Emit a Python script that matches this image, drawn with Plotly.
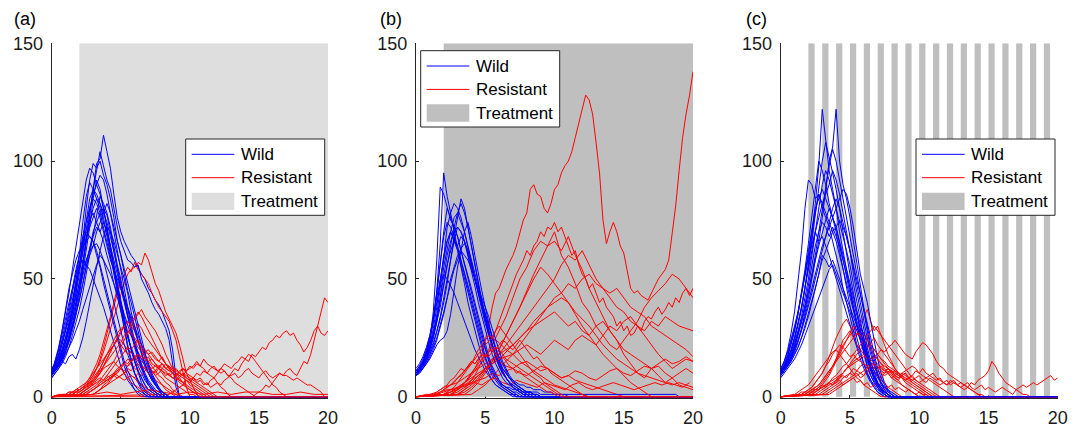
import plotly.graph_objects as go

# ---------------- shared settings ----------------
DT = 0.25            # sampling step of the wild trajectories (time units)
T_START, T_END = 0, 20
Y_MAX = 150
X_TICKS = [0, 5, 10, 15, 20]
Y_TICKS = [0, 50, 100, 150]
PANEL_LABELS = ["(a)", "(b)", "(c)"]
LEGEND_LABELS = ["Wild", "Resistant", "Treatment"]

# ---------------- panel (a): continuous treatment, light ----------------
TREAT_A = (2, 20)
WILD_A = [
    [10,11,14,16,20, 24,30,37,45, 55,66,78,90, 99,101,111,104, 97,86,76,70, 66,63,60,58, 55,52,50,46, 44,41,39,36, 32,28,20,8, 0],
    [9,11,14,18,23, 29,36,44,54, 66,80,92,99, 97,100,94,90, 84,76,66,60, 52,45,40,34, 27,21,16,12, 8,5,3,1, 0],
    [9,12,13,16,21, 26,31,38,46, 56,67,79,88, 96,104,98,92, 88,80,72,66, 62,58,57,55, 56,50,47,44, 40,37,35,32, 29,24,14,4, 0],
    [10,12,15,19,24, 30,38,48,60, 74,85,91,88, 84,80,74,70, 62,55,48,40, 33,26,20,15, 10,6,3,1, 0],
    [8,10,12,14,17, 21,26,31,37, 44,52,60,68, 76,85,82,78, 72,64,56,50, 42,35,28,22, 17,12,9,6, 4,2,1,0],
    [11,14,17,22,28, 34,41,49,57, 64,71,75,78, 74,70,66,60, 55,48,42,36, 30,25,21,17, 13,10,7,5, 3,2,1,0],
    [10,11,13,15,14, 17,18,16,20, 25,32,40,48, 55,62,68,72, 70,66,60,55, 50,44,36,30, 24,18,14,10, 7,5,3,2, 1,0],
    [12,14,16,20,25, 30,36,42,48, 54,58,62,64, 65,62,58,52, 46,40,34,28, 22,18,14,10, 7,5,3,2, 1,0],
    [9,13,18,24,31, 38,46,54,60, 66,70,68,66, 60,55,48,42, 36,30,24,18, 13,9,6,3, 1,0],
    [11,15,20,26,33, 40,46,52,56, 58,56,54,50, 46,42,38,33, 28,22,17,13, 10,7,5,3, 2,1,0],
    [9,11,13,16,19, 24,29,35,43, 52,62,72,84, 92,88,80,72, 64,55,46,38, 30,22,16,10, 6,3,1,0],
    [10,12,14,17,21, 25,30,35,41, 48,55,63,70, 74,78,80,77, 70,62,54,46, 40,34,28,22, 18,14,10,7, 5,3,2,1, 0],
    [10,15,21,28,36, 44,54,64,74, 84,92,97,95, 90,86,80,72, 64,56,48,40, 32,26,20,15, 11,8,5,3, 2,1,0],
    [10,11,13,15,18, 21,24,28,32, 37,42,47,52, 56,60,58,55, 52,48,44,40, 35,30,26,22, 19,16,13,10, 8,6,4,2, 1,0],
    [11,13,16,20,25, 31,38,46,56, 66,76,84,88, 86,82,76,68, 60,52,44,36, 28,21,15,10, 7,4,2,1, 0],
    [9,14,20,28,38, 46,52,58,62, 64,66,68,66, 62,56,50,44, 38,32,26,20, 15,11,8,5, 3,2,1,0],
    [10,12,15,18,23, 28,35,43,52, 62,72,80,86, 90,94,92,86, 78,70,62,54, 46,38,30,24, 18,13,9,6, 4,2,1,0],
    [9,11,13,17,21, 26,33,40,49, 58,66,74,80, 84,82,78,74, 68,62,55,48, 41,34,27,21, 16,12,8,5, 3,2,1,0],
    [11,13,15,19,23, 28,34,40,46, 52,58,63,68, 72,70,74,70, 64,58,52,46, 42,38,33,28, 23,18,14,10, 7,5,3,2, 1,0],
    [10,13,17,22,27, 33,40,47,55, 62,68,72,76, 80,76,70,64, 58,54,50,46, 42,38,34,30, 26,22,18,14, 10,7,4,2, 1,0],
    [8,10,12,15,19, 23,28,34,41, 48,55,60,64, 70,74,78,82, 78,72,66,60, 54,48,42,36, 30,24,18,13, 9,6,3,1, 0],
    [12,14,18,23,29, 36,44,52,60, 68,74,80,84, 82,78,72,66, 60,53,46,39, 32,26,20,15, 11,8,5,3, 2,1,0],
]
# resistant: (start time, step, values)
RES_A = [
    (1.0, 0.25, [1,1,2,2, 3,4,5,7, 9,12,15,19, 24,29,33,38, 44,48,52,54, 55,57,56,61, 58,53,48,45, 40,36,33,30, 27,22,16,10, 7,4,1,0]),
    (1.25, 0.25, [1,1,2,3, 4,6,8,11, 14,18,23,28, 34,40,46,50, 52,55,53,57, 54,52,50,48, 44,41,38,36, 34,32,28,24, 17,10,4,0]),
    (1.5, 0.25, [1,2,2,3, 5,7,9,12, 16,21,27,33, 38,44,48,42, 37,32,28,24, 20,17,14,11, 9,7,5,3, 2,1,0]),
    (2.0, 0.25, [1,2,3,4, 6,8,10,13, 16,19,22,24, 27,30,32,34, 33,35,37,34, 32,30,28,25, 22,18,15,12, 10,8,6,4, 3,2,1,0]),
    (1.5, 0.25, [1,1,2,3, 4,6,8,10, 12,15,18,20, 22,25,24,22, 20,19,17,16, 15,14,13,12, 13,12,11,10, 9,10,8,7, 6,7,5,4, 3,2,1,0]),
    (2.5, 0.25, [1,2,3,4, 5,6,8,9, 10,12,13,15, 14,16,17,18, 16,15,17,14, 13,12,14,12, 11,10,9,11, 12,10,9,8, 7,8,6,5, 7,8,10,12, 11,9,8,6, 5,4,3,2, 1,0]),
    (3.0, 0.25, [1,2,3,4, 5,6,7,8, 9,10,12,11, 13,14,12,13, 12,11,10,12, 11,9,10,8, 9,10,12,11, 13,12,14,13, 16,14,13,12, 11,10,11,9, 9,10,8,9, 11,12,10,9, 8,10,11,9, 8,9,10,9, 9,8,7,8, 7,6,5,5, 4,3,2,0]),
    (3.0, 0.25, [1,2,3,5, 6,8,9,10, 12,11,13,14, 12,11,13,12, 10,11,9,10, 12,11,9,8, 7,8,10,9, 8,7,6,7, 5,6,4,5, 6,5,7,8, 10,12,11,14, 16,15,18,17, 19,21,20,23, 24,26,25,27, 28,26,27,24, 22,19,21,24, 28,30,27,26, 28]),
    (14.5, 0.25, [0,1, 2,3,5,4, 6,8,10,9, 11,12,10,9, 12,15,14,18, 24,30,37,42, 40]),
    (8.5, 0.25, [1,2, 3,4,5,7, 6,8,10,9, 11,10,12,13, 11,12,14,13, 12,14,15,17, 16,18,17,15, 13,11,9,7, 5,4,2,1, 0]),
    (2.0, 0.25, [1,2,3,4, 5,6,7,6, 7,8,9,8, 9,10,8,9, 8,10,9,11, 12,10,11,13, 12,14,13,11, 12,10,9,11, 12,13,15,13, 12,10,9,8, 6,4,3,1, 0]),
    (1.0, 0.25, [1,1,2,2, 3,4,5,6, 7,9,10,12, 13,14,15,13, 12,10,11,9, 8,6,5,4, 3,3,2,1, 0]),
    (2.0, 0.25, [1,2,3,5, 7,9,12,15, 18,21,24,27, 29,30,28,26, 24,21,19,17, 15,13,11,9, 8,6,5,3, 2,1,0]),
    (0.5, 0.25, [1,1,1,2, 2,3,3,4, 5,6,5,7, 8,7,9,8, 10,9,8,7, 8,6,5,4, 3,2,2,1, 0]),
    (0.75, 0.25, [1,1,2,2, 3,4,5,6, 8,10,12,14, 16,18,20,22, 24,22,20,18, 19,17,15,13, 12,10,9,7, 6,5,4,3, 2,1,0]),
    (2.25, 0.25, [1,2,2,3, 4,5,6,7, 8,10,11,12, 14,13,15,16, 18,17,19,20, 18,16,15,17, 14,12,13,11, 10,9,8,7, 8,6,5,4, 3,2,1,0]),
    (3.0, 1.0, [1,2,1,2,3,2,1,2,1,2,1,2,2,1,1,2,1,1]),
    (1.75, 0.25, [1,1,2,3, 4,6,8,10, 13,16,19,22, 25,28,30,32, 30,28,31,29, 26,24,22,20, 18,16,14,12, 10,9,7,6, 5,4,3,2, 1,0]),
    (2.5, 0.25, [1,2,3,4, 6,7,9,11, 13,15,17,19, 21,20,22,24, 22,20,18,19, 17,15,14,12, 13,11,10,9, 8,7,6,5, 4,3,2,1, 0]),
    (1.25, 0.25, [1,1,2,2, 3,4,5,7, 9,11,13,15, 17,19,21,23, 26,28,27,25, 23,21,19,18, 16,14,12,10, 8,7,6,5, 4,3,2,1, 1,0]),
    (3.0, 0.25, [1,2,3,4, 5,7,9,11, 13,14,16,15, 17,18,16,17, 15,16,14,13, 14,12,11,12, 10,9,10,8, 7,6,5,4, 3,2,1,0]),
    (2.0, 0.25, [1,1,2,3, 4,5,7,9, 11,13,15,18, 21,24,27,30, 33,36,34,31, 28,25,22,19, 16,14,12,10, 8,6,5,4, 3,2,1,0]),
]

# ---------------- panel (b): continuous treatment ----------------
TREAT_B = (2, 20)
WILD_B = [
    [10,12,15,19,24, 32,45,65,95, 85,78,70,62, 55,48,40,34, 28,22,17,13, 10,7,5,4, 3,2,1,1, 0],
    [9,11,14,18,24, 36,58,89,86, 80,75,72,68, 62,56,50,44, 38,32,26,20, 15,11,8,6, 4,3,2,1, 1,0],
    [11,12,14,16,19, 23,28,34,42, 50,58,68,76, 84,80,72,64, 56,48,40,34, 28,22,17,13, 10,8,6,4, 3,2,1,0],
    [10,11,13,16,20, 25,32,42,55, 63,70,76,78, 74,70,64,58, 52,46,40,35, 30,25,20,16, 12,10,8,6, 5,4,3,2, 2,1,1,0],
    [9,11,14,17,22, 29,38,50,60, 66,70,66,62, 56,50,44,38, 32,26,21,16, 12,9,7,5, 4,3,2,1, 0],
    [9,10,12,14,16, 19,22,24,25, 28,35,45,55, 62,70,74,68, 60,52,45,38, 31,25,20,15, 11,8,6,4, 3,2,1,1, 0],
    [10,11,12,14,17, 20,24,29,35, 42,50,55,60, 63,65,62,57, 50,44,38,32, 26,21,17,13, 10,8,6,5, 4,3,2,2, 1,1,0],
    [12,14,17,21,26, 32,40,48,52, 50,47,44,40, 36,32,28,24, 20,17,14,11, 9,7,5,4, 3,2,1,0],
    [10,12,15,19,24, 32,44,58,70, 80,76,72,68, 62,57,52,46, 40,34,28,22, 17,13,10,7, 5,4,3,2, 2,1,0],
    [9,10,12,15,18, 22,27,33,40, 48,58,66,72, 70,66,60,55, 50,45,40,35, 30,25,21,17, 14,11,8,6, 5,4,3,2, 2,1,1,0],
    [11,13,16,20,26, 34,42,50,58, 66,70,67,63, 58,52,46,40, 34,28,22,17, 13,10,8,6, 5,4,4,3, 3,3,2,2, 2,2,2,1,
     1,1,1,1, 1,1,1,1, 1,1,1,1, 1,1,1,1, 1,1,1,1, 1,1,1,1, 1,1,1,1, 1,1,1,1, 1,1,1,1, 1,1,1,0],
    [10,12,14,17,21, 26,33,42,52, 60,66,70,72, 70,66,62,56, 50,44,38,32, 27,22,18,15, 12,10,8,7, 6,5,5,4, 4,3,3,3, 2,2,2,1, 1,1,1,0],
    [10,12,14,17,21, 27,35,46,60, 72,78,82,80, 76,70,64,57, 50,43,37,31, 26,21,17,13, 10,8,6,4, 3,2,1,0],
    [11,13,15,18,22, 27,33,40,48, 56,62,66,64, 68,66,60,54, 47,40,34,28, 23,18,14,11, 8,6,5,4, 3,2,2,1, 1,0],
    [9,11,13,16,20, 25,31,38,47, 56,64,72,78, 82,78,72,64, 56,48,41,34, 28,22,18,14, 11,8,6,5, 4,3,2,1, 0],
    [10,12,15,19,25, 33,44,56,68, 74,72,68,64, 58,53,48,42, 36,30,25,20, 16,12,9,7, 5,4,3,2, 1,0],
    [10,11,13,15,18, 21,25,30,36, 42,48,54,58, 62,60,58,54, 50,46,42,38, 34,29,24,19, 15,12,9,7, 5,4,3,2, 2,1,1,0],
]
RES_B = [
    (2.5, 0.25, [1,2, 3,4,6,7, 10,12,15,18, 24,30,38,44, 46,50,54,57, 60,64,70,75, 78,88,90,86, 85,80,78,82, 88,90,95,98, 100,104,110,116, 122,128,126,120, 108,95,75,65, 70,74,70,64, 61,53,46,44, 45,43,42,41, 44,47,50,52, 54,58,70,81, 96,110,120,128, 138]),
    (3.0, 0.25, [1,2,3,5, 7,9,12,15, 18,20,24,28, 32,36,40,44, 48,52,55,58, 62,60,64,66, 70,68,72,71, 74,70,72,68, 64,60,62,56, 52,50,46,48, 44,40,42,38, 36,34,30,32, 28,30,26,27, 30,28,32,34, 33,36,38,35, 37,40,38,42, 40,44,46,43, 46]),
    (2.0, 0.5, [1,2,4,6,9,13,16,22,28,34,42,50,55,62,66,64,70,60,55,48,40,36,30,26,22,20,24,28,32,38,42,45,48,52,50,46,42]),
    (3.5, 0.5, [1,3,6,10,14,18,22,26,30,34,38,42,46,50,56,60,58,62,56,50,46,42,38,36,32,30,26,22,18,15,12,14,16,15]),
    (3.0, 0.5, [1,3,5,8,12,16,20,26,32,38,45,52,58,64,66,62,68,60,54,46,40,34,28,24,18,14,10,8,12,9,6,8,5,4,3]),
    (4.0, 0.5, [1,3,5,8,12,15,18,22,26,30,34,38,42,44,48,46,50,52,48,46,44,46,42,38,36,34,30,28,26,24,22,20,17]),
    (2.5, 0.5, [1,2,4,6,9,12,15,18,20,22,25,28,30,32,34,36,33,30,32,28,26,30,32,28,24,20,18,16,14,12,13,10,8,10,12,10]),
    (2.0, 0.5, [1,2,4,6,8,10,12,14,16,17,18,20,22,20,18,21,24,22,20,24,26,24,22,26,30,28,32,34,30,28,32,30,34,32,30,29,28]),
    (1.5, 0.5, [1,2,3,4,5,6,7,8,10,9,11,12,10,9,11,13,12,10,8,9,11,10,8,7,9,11,12,10,9,11,13,12,14,16,14,15,17,15]),
    (1.0, 0.5, [1,2,4,5,6,8,10,12,14,16,15,13,12,14,15,13,11,12,10,8,9,7,6,5,4,3,2,1,0]),
    (0.75, 0.5, [1,1,2,3,3,4,5,6,5,7,8,6,5,7,6,5,4,6,5,4,3,5,6,4,3,4,5,6,5,4,3,4,5,6,5,6,5,4,6]),
    (3.0, 0.5, [1,2,4,7,11,15,20,26,32,38,44,50,55,52,48,44,40,35,30,26,22,18,15,12,9,6,4,2,0]),
    (2.0, 0.5, [1,2,3,5,7,9,11,14,16,19,22,25,28,32,35,38,40,42,40,36,33,30,26,22,19,16,14,12,10,9,8,7,6,5,6,5,4]),
    (1.5, 0.5, [1,3,5,8,11,14,18,22,25,23,20,18,15,13,11,9,7,5,4,3,2,1,0]),
    (1.0, 0.25, [1,1,2,3, 4,5,7,8, 10,12,11,13, 15,14,16,18, 17,19,20,18, 16,17,15,13, 12,10,11,9, 8,7,6,5, 4,3,2,2, 1,0]),
    (2.0, 0.25, [1,2,3,4, 6,8,10,12, 14,17,20,22, 24,26,25,28, 30,28,26,24, 22,20,18,16, 14,12,10,9, 8,6,5,4, 3,2,1,0]),
    (1.5, 0.25, [1,2,3,4, 5,6,8,9, 11,13,15,14, 16,18,17,19, 21,20,22,24, 23,21,20,22, 24,22,20,18, 16,17,15,13, 12,10,9,8, 7,6,5,4, 3,2,1,0]),
    (2.5, 0.25, [1,2,3,4, 6,8,10,12, 14,16,18,17, 19,21,20,18, 16,15,14,13, 12,11,10,9, 8,7,6,5, 4,3,2,1, 0]),
]

# ---------------- panel (c): pulsed treatment ----------------
PULSE_STARTS_C = [2, 3, 4, 5, 6, 7, 8, 9, 10, 11, 12, 13, 14, 15, 16, 17, 18, 19]
PULSE_WIDTH_C = 0.45
WILD_C = [
    [10,12,15,19,24, 30,37,46,56, 68,82,98,122, 110,96,88,80, 70,62,54,46, 38,30,24,18, 13,9,6,4, 2,1,0],
    [9,11,13,16,20, 24,29,35,42, 50,58,66,76, 88,100,106,122, 100,90,84,76, 66,56,46,38, 30,22,16,10, 6,3,1,0],
    [11,15,20,27,36, 48,62,80,92, 90,84,86,80, 76,72,66,60, 54,46,40,34, 28,22,18,14, 10,7,5,3, 2,1,0],
    [9,11,13,16,19, 23,28,34,40, 46,52,58,64, 68,72,76,80, 84,88,86,80, 72,62,52,46, 40,32,24,16, 10,6,3,1, 0],
    [10,13,16,20,25, 31,38,46,55, 66,78,90,100, 108,102,95,88, 80,70,60,52, 44,36,28,22, 16,11,7,4, 2,1,0],
    [10,12,15,18,22, 27,32,38,45, 52,58,64,70, 75,80,76,72, 65,58,50,44, 38,32,26,20, 15,11,8,5, 3,2,1,0],
    [12,15,19,24,30, 36,43,51,59, 65,70,66,68, 64,60,55,50, 45,40,35,30, 25,20,16,12, 9,6,4,2, 1,0],
    [9,11,13,15,18, 21,25,29,34, 40,46,52,60, 58,55,58,54, 50,46,42,38, 34,30,26,22, 18,14,11,8, 6,4,3,2, 1,0],
    [10,13,17,22,28, 35,44,54,65, 76,88,100,96, 90,82,76,70, 62,54,46,38, 31,25,19,14, 10,7,4,2, 1,0],
    [9,11,13,15,18, 21,25,30,35, 40,46,52,58, 62,66,70,72, 75,72,68,62, 55,48,40,32, 25,18,13,9, 6,4,2,1, 0],
    [11,14,18,23,29, 36,44,52,60, 70,78,86,82, 78,74,70,66, 60,54,48,42, 36,30,24,18, 13,9,6,4, 2,1,0],
    [10,12,14,17,21, 26,31,37,44, 52,60,70,80, 90,98,105,100, 92,84,76,68, 60,52,44,36, 28,20,14,9, 5,3,1,0],
    [8,10,12,14,16, 19,22,26,30, 34,38,42,46, 50,54,56,52, 48,44,40,36, 32,28,24,20, 16,12,9,6, 4,2,1,0],
    [10,12,15,19,23, 28,34,42,50, 60,70,80,90, 96,92,86,80, 74,68,62,56, 48,40,32,25, 18,12,8,5, 3,2,1,0],
    [11,13,16,20,25, 31,38,46,54, 62,70,76,82, 86,90,96,92, 86,78,70,62, 52,44,36,28, 21,15,10,6, 3,1,0],
    [9,11,14,17,21, 26,32,39,47, 56,64,70,74, 72,68,72,68, 64,58,52,46, 40,34,28,22, 17,12,8,5, 3,2,1,0],
    [10,13,17,22,28, 35,43,52,62, 72,80,84,88, 84,80,76,72, 66,60,54,48, 42,36,30,24, 18,13,9,6, 4,2,1,0],
    [10,12,14,17,20, 24,28,33,38, 44,50,56,62, 68,74,80,84, 80,74,68,62, 56,50,44,38, 32,25,18,12, 8,5,2,1, 0],
]
RES_C = [
    (1.5, 0.25, [1,1,2,3, 4,5,7,9, 11,13,16,19, 22,24,26,28, 30,31,34,37, 32,28,30,26, 22,18,15,12, 10,8,6,5, 4,3,2,1, 0]),
    (1.0, 0.25, [1,1,2,2, 3,4,6,8, 10,13,17,21, 25,28,31,33, 30,28,26,29, 27,24,22,20, 18,16,14,12, 10,8,7,5, 4,3,2,1, 0]),
    (2.0, 0.25, [1,2,2,3, 4,5,6,7, 8,9,10,12, 13,14,15,16, 17,18,16,17, 18,20,19,21, 22,24,22,20, 18,17,16,19, 21,23,22,20, 18,15,13,12, 10,9,8,7, 6,5,4,3, 2,1,1,0]),
    (3.0, 0.25, [1,2,3,4, 5,6,8,9, 10,12,11,13, 14,12,13,15, 14,12,11,10, 11,9,8,10, 9,8,7,8, 9,7,6,8, 7,6,5,6, 5,6,7,5, 6,5,4,6, 5,7,8,9, 11,15,13,10, 8,6,5,4, 3,2,1,1, 0]),
    (3.0, 0.25, [1,1,2,3, 4,5,6,7, 8,9,10,8, 9,11,10,12, 11,10,9,10, 8,9,10,8, 7,8,9,7, 6,7,8,9, 10,8,7,6, 7,5,6,5, 4,5,6,4, 3,4,5,3, 4,3,2,3, 4,3,2,1, 3,4,5,4, 5,6,5,6, 7,8,9,7, 8]),
    (2.0, 0.25, [1,2,3,4, 6,8,10,13, 16,20,24,26, 28,25,22,20, 18,16,13,11, 9,7,6,4, 3,2,1,0]),
    (2.5, 0.25, [1,1,2,3, 4,5,6,8, 10,12,14,16, 18,20,22,21, 23,25,22,20, 18,16,14,12, 10,9,7,6, 5,4,3,2, 1,0]),
    (1.5, 0.25, [1,1,2,2, 3,3,4,5, 6,5,7,8, 9,8,10,9, 11,10,9,11, 12,10,9,8, 10,11,9,8, 7,9,10,8, 9,11,10,12, 10,9,8,7, 8,6,5,7, 6,5,4,3, 4,3,2,1, 0]),
    (1.0, 0.25, [1,2,3,4, 5,7,9,11, 13,15,17,19, 20,18,16,14, 12,10,8,7, 5,4,3,2, 1,0]),
    (1.25, 0.25, [1,1,2,2,3,3,4,5,4,6,5,6,7,5,6,7,8,6,7,5,6,4,5,6,4,3,4,5,3,4,3,2,3,2,1,2,1,1,0]),
    (1.5, 0.25, [1,2,3,4, 6,8,10,13, 15,18,20,22, 21,19,17,18, 16,15,14,13, 14,12,13,11, 10,12,11,9, 8,9,10,8, 7,6,5,4, 3,2,1,0]),
    (2.25, 0.25, [1,2,3,5, 7,9,12,15, 18,21,24,27, 30,28,26,27, 24,22,20,18, 16,15,13,12, 11,10,9,8, 7,6,5,4, 3,2,1,0]),
    (1.75, 0.25, [1,2,3,4, 5,7,9,11, 13,15,17,19, 21,23,25,27, 26,24,22,20, 18,16,14,12, 10,8,7,6, 5,4,3,2, 1,0]),
    (2.0, 0.25, [1,1,2,3, 4,5,6,8, 9,11,13,14, 16,18,20,22, 24,26,28,30, 28,26,24,22, 20,18,16,14, 12,10,8,7, 6,5,4,3, 2,1,0]),
    (2.5, 0.25, [1,2,3,4, 5,6,7,9, 10,12,13,15, 16,17,18,16, 15,17,16,14, 13,12,11,10, 9,8,7,8, 6,5,4,3, 2,1,0]),
    (3.5, 0.25, [1,2,3,4, 5,6,7,8, 9,10,11,12, 13,14,12,13, 11,12,10,11, 9,10,11,12, 13,12,10,9, 8,7,6,5, 4,3,2,1, 0]),
]

# ---------------- styling ----------------
# the page body has an 8 px margin; all pixel positions below are window pixels
PAGE_OFFSET = 8
WIN_W, WIN_H = 1083, 433
W, H = WIN_W - PAGE_OFFSET, WIN_H - PAGE_OFFSET
BLUE, RED = "#0000ff", "#ff0000"
TREAT_COLORS = ["#dedede", "#bfbfbf", "#bfbfbf"]
AX_COLOR = "#262626"
FONT = "Arial, Liberation Sans, Helvetica, sans-serif"
X_DOMAINS_PX = [(51.7, 328.0), (416.0, 693.0), (780.7, 1057.7)]
Y_DOMAIN_PX = (397.7, 43.3)   # (bottom, top)
LABEL_PX = [(25.0, 19.0), (391.0, 19.0), (756.5, 19.0)]
# legend boxes (window-pixel position of top-left corner) and internal layout (pixels)
LEG_BOX_PX = [(185.7, 139.0), (420.7, 50.7), (916.0, 139.0)]
LEG_W, LEG_H = 139.0, 76.3
LEG_ROW_DY = [15.3, 38.7, 62.3]
LEG_SYM_X = (6.0, 48.6)
LEG_SYM_H = 17.3
LEG_TEXT_X = 53.0


def px_x(x):
    return (x - PAGE_OFFSET) / W


def px_y(y):
    return 1 - (y - PAGE_OFFSET) / H


def wild_path(vals):
    xs = [T_START + i * DT for i in range(len(vals))]
    ys = list(vals)
    if ys[-1] == 0 and xs[-1] < T_END:
        xs.append(T_END)
        ys.append(0)
    return xs, ys


def res_path(t0, dt, vals):
    xs = [t0 + i * dt for i in range(len(vals))]
    ys = list(vals)
    if t0 > T_START:
        xs = [T_START] + xs
        ys = [0] + ys
    if ys[-1] == 0 and xs[-1] < T_END:
        xs.append(T_END)
        ys.append(0)
    return xs, ys


def rect_polys(intervals):
    xs, ys = [], []
    for a, b in intervals:
        xs += [a, b, b, a, a, None]
        ys += [0, 0, Y_MAX, Y_MAX, 0, None]
    return xs, ys


fig = go.Figure()
panels = [
    (WILD_A, RES_A, [TREAT_A]),
    (WILD_B, RES_B, [TREAT_B]),
    (WILD_C, RES_C, [(s, s + PULSE_WIDTH_C) for s in PULSE_STARTS_C]),
]

for p, (wild, res, treat) in enumerate(panels):
    xa = "x" if p == 0 else f"x{p + 1}"
    ya = "y" if p == 0 else f"y{p + 1}"
    tx, ty = rect_polys(treat)
    fig.add_trace(go.Scatter(
        x=tx, y=ty, mode="lines", fill="toself", fillcolor=TREAT_COLORS[p],
        line=dict(width=0, color=TREAT_COLORS[p]), name="Treatment",
        xaxis=xa, yaxis=ya, showlegend=False, hoverinfo="skip"))
    n = max(len(wild), len(res))
    for i in range(n):
        if i < len(wild):
            x, y = wild_path(wild[i])
            fig.add_trace(go.Scatter(
                x=x, y=y, mode="lines", line=dict(color=BLUE, width=1),
                name="Wild", showlegend=False,
                xaxis=xa, yaxis=ya, hoverinfo="skip"))
        if i < len(res):
            t0, dt, v = res[i]
            x, y = res_path(t0, dt, v)
            fig.add_trace(go.Scatter(
                x=x, y=y, mode="lines", line=dict(color=RED, width=1),
                name="Resistant", showlegend=False,
                xaxis=xa, yaxis=ya, hoverinfo="skip"))

layout = dict(
    width=W, height=H,
    margin=dict(l=0, r=0, t=0, b=0, autoexpand=False),
    paper_bgcolor="white", plot_bgcolor="white",
    font=dict(family=FONT, size=18, color="#000000"),
    showlegend=False,
)
axis_common = dict(
    showline=True, linecolor=AX_COLOR, linewidth=1,
    ticks="inside", ticklen=3, tickcolor=AX_COLOR, tickwidth=1,
    showgrid=False, zeroline=False, layer="below traces", automargin=False,
    tickfont=dict(family=FONT, size=18, color="#1a1a1a"),
)
y_dom = [px_y(Y_DOMAIN_PX[0]), px_y(Y_DOMAIN_PX[1])]
for p in range(3):
    sfx = "" if p == 0 else str(p + 1)
    x0, x1 = X_DOMAINS_PX[p]
    layout[f"xaxis{sfx}"] = dict(
        axis_common, domain=[px_x(x0), px_x(x1)], range=[T_START, T_END],
        tickvals=X_TICKS, anchor=f"y{sfx}", ticklabelstandoff=4)
    layout[f"yaxis{sfx}"] = dict(
        axis_common, domain=y_dom, range=[-0.4, Y_MAX],
        tickvals=Y_TICKS, anchor=f"x{sfx}", ticklabelstandoff=4)
fig.update_layout(**layout)

# ---- legends drawn as boxes (one per panel) ----
shapes, annots = [], []
for p in range(3):
    bx, by = LEG_BOX_PX[p]
    shapes.append(dict(type="rect", xref="paper", yref="paper",
                       x0=px_x(bx), x1=px_x(bx + LEG_W), y0=px_y(by + LEG_H), y1=px_y(by),
                       fillcolor="white", line=dict(color=AX_COLOR, width=1), layer="above"))
    for k, color in enumerate([BLUE, RED]):
        yy = px_y(by + LEG_ROW_DY[k])
        shapes.append(dict(type="line", xref="paper", yref="paper",
                           x0=px_x(bx + LEG_SYM_X[0]), x1=px_x(bx + LEG_SYM_X[1]), y0=yy, y1=yy,
                           line=dict(color=color, width=1), layer="above"))
    cy = by + LEG_ROW_DY[2]
    shapes.append(dict(type="rect", xref="paper", yref="paper",
                       x0=px_x(bx + LEG_SYM_X[0]), x1=px_x(bx + LEG_SYM_X[1]),
                       y0=px_y(cy + LEG_SYM_H / 2), y1=px_y(cy - LEG_SYM_H / 2),
                       fillcolor=TREAT_COLORS[p], line=dict(width=0), layer="above"))
    for k, lab in enumerate(LEGEND_LABELS):
        annots.append(dict(text=lab, xref="paper", yref="paper",
                           x=px_x(bx + LEG_TEXT_X), y=px_y(by + LEG_ROW_DY[k]),
                           xanchor="left", yanchor="middle", showarrow=False,
                           font=dict(family=FONT, size=17, color="#000000")))
    lx, ly = LABEL_PX[p]
    annots.append(dict(text=PANEL_LABELS[p], xref="paper", yref="paper",
                       x=px_x(lx), y=px_y(ly), xanchor="center", yanchor="middle",
                       showarrow=False, font=dict(family=FONT, size=18, color="#000000")))

fig.update_layout(shapes=shapes, annotations=annots)
fig.write_html("out.html")
